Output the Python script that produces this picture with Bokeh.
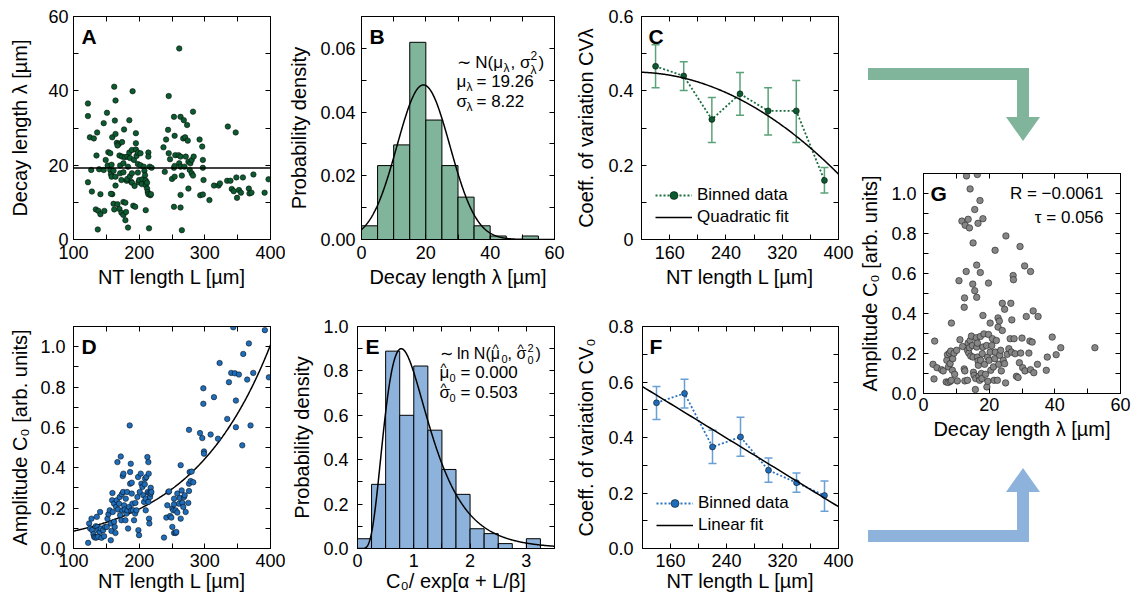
import numpy as np
from bokeh.plotting import figure
from bokeh.models import (Range1d, LinearAxis, FixedTicker, PrintfTickFormatter,
                          Label, Legend, LegendItem, Whisker, TeeHead,
                          ColumnDataSource, Span, Div)
from bokeh.layouts import row, column
from bokeh.embed import file_html
from bokeh.resources import INLINE

FONT = "Liberation Sans"

# ---------------- data ----------------
# Panel A: decay length vs NT length
A_L = [
    122, 122, 125, 131, 136, 122, 127, 128, 135, 139,
    134, 138, 141, 141, 137, 146, 147, 146, 151, 149,
    153, 156, 152, 156, 157, 158, 158, 159, 159, 162,
    164, 163, 164, 161, 164, 164, 157, 161, 162, 166,
    169, 167, 170, 171, 171, 173, 174, 176, 176, 177,
    178, 174, 167, 170, 173, 176, 176, 179, 179, 180,
    181, 183, 182, 182, 185, 185, 186, 186, 188, 189,
    189, 189, 190, 191, 193, 192, 194, 195, 195, 195,
    196, 198, 198, 199, 198, 202, 200, 202, 205, 204,
    207, 208, 209, 210, 210, 212, 212, 213, 214, 214,
    214, 216, 217, 218, 219, 210, 215, 183, 237, 239,
    241, 244, 245, 245, 247, 250, 253, 253, 254, 253,
    255, 254, 254, 261, 260, 261, 263, 263, 263, 265,
    263, 263, 265, 267, 268, 269, 270, 271, 273, 274,
    275, 275, 277, 278, 280, 282, 283, 280, 282, 292,
    293, 296, 297, 297, 298, 297, 307, 314, 321, 323,
    334, 335, 339, 341, 344, 347, 348, 349, 352, 355,
    358, 367, 368, 371, 374, 391, 397]
A_LAM = [
    36.6, 33.2, 27.5, 27.2, 28.8, 15.4, 18.7, 12.9, 22.6, 18.9,
    8.1, 7.7, 12.2, 6.8, 2.7, 18.7, 7.7, 31.3, 34.1, 21.4,
    23.5, 23.2, 19.9, 18.7, 17.6, 20.1, 16.9, 12.2, 27.5, 41.1,
    37.4, 32.0, 28.4, 18.5, 16.9, 14.5, 12.3, 9.6, 8.1, 26.0,
    25.7, 25.3, 22.6, 19.9, 17.8, 16.0, 22.3, 20.5, 18.1, 29.6,
    22.1, 26.2, 9.5, 8.2, 7.2, 10.1, 6.6, 9.9, 5.2, 7.4,
    15.8, 19.6, 22.3, 16.3, 23.4, 32.1, 21.9, 17.0, 15.5, 24.1,
    17.8, 15.3, 39.9, 9.1, 14.4, 21.4, 8.8, 28.6, 25.9, 24.2,
    22.5, 23.4, 20.3, 15.4, 18.0, 23.2, 16.0, 20.0, 16.2, 14.9,
    19.6, 18.5, 17.3, 14.6, 15.9, 13.7, 15.3, 12.8, 12.2, 23.4,
    22.3, 19.6, 11.9, 12.2, 19.3, 7.9, 3.0, 3.2, 24.8, 18.2,
    26.9, 29.5, 38.6, 23.2, 21.6, 16.3, 33.0, 8.8, 27.9, 19.3,
    22.7, 16.9, 19.8, 51.4, 22.7, 20.5, 33.0, 22.3, 19.6, 17.2,
    12.0, 8.6, 2.5, 27.2, 32.1, 19.6, 27.5, 22.3, 30.8, 26.6,
    13.7, 20.9, 18.7, 20.5, 21.4, 34.4, 22.3, 17.8, 17.2, 26.9,
    11.9, 25.0, 21.4, 19.3, 16.0, 12.1, 10.6, 14.5, 14.5, 15.1,
    15.8, 30.4, 15.8, 13.6, 13.0, 28.8, 16.7, 11.2, 13.3, 12.6,
    16.7, 13.7, 12.4, 12.6, 17.5, 12.6, 16.2]
LAMBDA_MEAN = 19.26
LAMBDA_STD = 8.22

# Panel B: histogram of decay lengths
B_EDGES = [0, 5, 10, 15, 20, 25, 30, 35, 40, 45, 50, 55]
B_DENSITY = [0.0043, 0.0232, 0.0297, 0.0619, 0.0375, 0.0232, 0.0133, 0.0043, 0.0011, 0.0, 0.0011]

# Panels C and F: binned coefficients of variation
BIN_L = [140, 180, 220, 260, 300, 340, 380]
C_CV = [0.466, 0.440, 0.323, 0.392, 0.346, 0.346, 0.159]
C_LO = [0.408, 0.401, 0.261, 0.334, 0.281, 0.261, 0.125]
C_HI = [0.524, 0.478, 0.382, 0.449, 0.408, 0.428, 0.194]
C_FIT_CENTER = 260.0
C_FIT_COEF = [0.377, -9.79e-4, -3.27e-6]

F_CV = [0.525, 0.559, 0.366, 0.402, 0.282, 0.237, 0.191]
F_LO = [0.465, 0.506, 0.306, 0.332, 0.239, 0.203, 0.134]
F_HI = [0.584, 0.610, 0.426, 0.473, 0.326, 0.272, 0.243]
F_FIT_INTERCEPT = 0.769
F_FIT_SLOPE = -1.546e-3

# Panel D: amplitude vs NT length
D_L = [
    122.3, 123.8, 125.3, 127.4, 128.4, 130.4, 131.4, 132.9, 134.0, 135.5,
    136.5, 137.5, 135.0, 137.5, 140.0, 140.5, 141.6, 142.6, 145.1, 146.6,
    148.1, 150.7, 151.7, 153.2, 155.2, 156.8, 156.8, 157.8, 158.8, 159.3,
    159.8, 161.8, 161.8, 162.8, 163.9, 164.9, 165.9, 166.9, 167.9, 169.4,
    170.4, 171.0, 172.0, 173.0, 173.5, 174.5, 175.0, 175.5, 176.0, 177.0,
    178.0, 179.1, 179.6, 180.6, 181.6, 182.1, 183.1, 184.6, 185.6, 186.2,
    186.2, 187.2, 188.2, 188.7, 188.7, 189.7, 190.7, 192.2, 193.8, 194.3,
    195.8, 197.3, 198.3, 198.8, 199.8, 200.9, 202.4, 203.4, 204.9, 206.4,
    207.4, 208.5, 209.0, 210.0, 210.0, 211.0, 212.5, 213.0, 214.0, 214.0,
    214.5, 215.5, 216.6, 217.6, 217.6, 215.0, 215.5, 218.6, 237.8, 241.4,
    242.9, 244.4, 245.5, 247.0, 249.0, 250.5, 250.5, 252.0, 253.1, 253.1,
    253.1, 255.6, 256.6, 255.6, 258.1, 258.1, 260.7, 261.7, 263.2, 263.2,
    264.7, 265.7, 267.2, 268.3, 269.3, 270.8, 274.8, 275.9, 275.9, 275.9,
    276.9, 278.4, 279.9, 282.4, 292.6, 296.1, 297.7, 297.7, 298.7, 298.7,
    308.8, 313.9, 320.0, 322.5, 334.1, 336.7, 340.2, 343.3, 345.8, 351.9,
    347.3, 347.3, 357.0, 358.5, 364.5, 367.1, 369.6, 373.7, 391.4, 397.5]
D_C0 = [
    0.028, 0.124, 0.099, 0.148, 0.091, 0.071, 0.058, 0.054, 0.110, 0.157,
    0.107, 0.091, 0.054, 0.058, 0.082, 0.181, 0.099, 0.053, 0.091, 0.061,
    0.107, 0.107, 0.147, 0.170, 0.189, 0.124, 0.041, 0.087, 0.239, 0.275,
    0.181, 0.222, 0.132, 0.107, 0.077, 0.206, 0.239, 0.428, 0.193, 0.222,
    0.255, 0.165, 0.456, 0.140, 0.269, 0.189, 0.359, 0.280, 0.371, 0.214,
    0.193, 0.140, 0.247, 0.173, 0.280, 0.189, 0.099, 0.206, 0.610, 0.379,
    0.321, 0.420, 0.189, 0.326, 0.272, 0.222, 0.189, 0.140, 0.173, 0.226,
    0.189, 0.255, 0.354, 0.091, 0.066, 0.280, 0.371, 0.321, 0.305, 0.264,
    0.231, 0.318, 0.346, 0.189, 0.247, 0.354, 0.453, 0.280, 0.231, 0.428,
    0.371, 0.275, 0.255, 0.301, 0.272, 0.148, 0.124, 0.280, 0.054, 0.153,
    0.214, 0.280, 0.283, 0.161, 0.153, 0.198, 0.107, 0.189, 0.219, 0.247,
    0.077, 0.077, 0.082, 0.189, 0.272, 0.178, 0.222, 0.250, 0.148, 0.413,
    0.288, 0.227, 0.206, 0.255, 0.264, 0.181, 0.226, 0.321, 0.588, 0.285,
    0.379, 0.334, 0.381, 0.328, 0.572, 0.547, 0.794, 0.717, 0.481, 0.470,
    0.565, 0.750, 0.544, 0.919, 0.642, 0.824, 0.870, 1.096, 0.868, 0.862,
    0.733, 0.601, 0.511, 0.964, 0.837, 1.016, 0.610, 0.870, 1.082, 0.848]
D_ALPHA = -3.27
D_BETA = 122.0

# Panel E: histogram of normalised amplitudes
E_EDGES = [0, 0.25, 0.5, 0.75, 1.0, 1.25, 1.5, 1.75, 2.0, 2.25, 2.5, 2.75, 3.0, 3.25]
E_DENSITY = [0.044, 0.289, 0.889, 0.600, 0.822, 0.533, 0.356, 0.244, 0.089, 0.067, 0.022, 0.0, 0.044]
E_MU = 0.000
E_SIGMA = 0.503

# Panel G: amplitude vs decay length
G_LAM = [
    13.1, 16.4, 14.2, 17.2, 15.6, 11.7, 12.7, 13.6, 14.0, 16.6,
    18.1, 15.1, 25.1, 29.4, 21.8, 13.0, 16.2, 17.3, 30.8, 32.6,
    10.8, 15.0, 19.8, 15.6, 16.2, 27.3, 27.4, 12.5, 12.4, 18.1,
    24.0, 26.6, 24.7, 8.5, 20.3, 22.7, 23.1, 26.9, 31.3, 33.4,
    34.9, 3.4, 2.9, 3.2, 4.1, 5.5, 6.0, 7.1, 7.3, 7.9,
    8.3, 6.9, 7.5, 8.1, 8.5, 7.6, 8.1, 8.8, 8.9, 9.3,
    9.5, 10.1, 10.3, 11.1, 11.9, 12.4, 12.6, 12.6, 13.4, 13.4,
    13.6, 13.8, 14.0, 14.2, 14.4, 14.6, 14.9, 15.1, 15.2, 15.4,
    15.8, 15.9, 16.1, 16.2, 16.4, 16.4, 16.6, 16.7, 16.9, 17.1,
    17.3, 17.4, 17.6, 17.8, 17.9, 18.1, 18.4, 18.6, 18.9, 19.2,
    19.3, 19.5, 19.6, 19.8, 20.0, 20.3, 20.5, 20.8, 21.0, 21.3,
    21.5, 21.7, 21.9, 22.2, 22.5, 22.7, 22.9, 23.2, 23.5, 23.7,
    24.0, 24.3, 24.7, 25.0, 25.5, 26.0, 26.4, 26.8, 27.6, 27.9,
    28.3, 28.8, 29.2, 29.6, 30.0, 30.2, 30.9, 32.1, 32.4, 32.6,
    33.1, 33.6, 34.7, 37.4, 37.7, 39.2, 40.4, 41.8, 52.2]
G_C0 = [
    1.088, 1.095, 1.023, 0.965, 0.920, 0.862, 0.841, 0.871, 0.828, 0.851,
    0.874, 0.753, 0.788, 0.735, 0.716, 0.610, 0.642, 0.605, 0.638, 0.610,
    0.564, 0.547, 0.552, 0.514, 0.481, 0.590, 0.569, 0.478, 0.431, 0.390,
    0.451, 0.451, 0.421, 0.352, 0.352, 0.378, 0.362, 0.368, 0.385, 0.413,
    0.385, 0.262, 0.146, 0.073, 0.129, 0.119, 0.113, 0.166, 0.194, 0.202,
    0.212, 0.058, 0.055, 0.060, 0.066, 0.133, 0.149, 0.116, 0.174, 0.202,
    0.096, 0.216, 0.063, 0.269, 0.235, 0.123, 0.113, 0.063, 0.066, 0.216,
    0.252, 0.202, 0.229, 0.265, 0.187, 0.287, 0.240, 0.182, 0.106, 0.091,
    0.020, 0.075, 0.279, 0.232, 0.252, 0.182, 0.163, 0.141, 0.086, 0.066,
    0.285, 0.166, 0.100, 0.075, 0.199, 0.232, 0.298, 0.146, 0.096, 0.240,
    0.033, 0.182, 0.061, 0.295, 0.166, 0.207, 0.116, 0.240, 0.274, 0.133,
    0.066, 0.174, 0.207, 0.265, 0.066, 0.332, 0.146, 0.191, 0.216, 0.113,
    0.315, 0.166, 0.149, 0.053, 0.196, 0.224, 0.274, 0.207, 0.274, 0.199,
    0.086, 0.080, 0.154, 0.202, 0.277, 0.129, 0.113, 0.202, 0.262, 0.119,
    0.257, 0.104, 0.146, 0.116, 0.182, 0.282, 0.194, 0.229, 0.229]
G_R = "\u22120.0061"
G_TAU = "0.056"

# decorative arrow outlines (pixel coordinates inside the arrow boxes)
ARROW_TOP_X = [12, 173, 173, 184, 167, 150, 161, 161, 12]
ARROW_TOP_Y = [68, 68, 117, 117, 141, 117, 117, 80, 80]
ARROW_BOT_X = [12, 161, 161, 150, 167, 184, 173, 173, 12]
ARROW_BOT_Y = [80, 80, 42, 42, 18, 42, 42, 92, 92]

# colours
GREEN_PT = "#0d5a30"
GREEN_LINE = "#1a6e3f"
GREEN_ERR = "#5aa277"
GREEN_HIST = "#80b49b"
BLUE_PT = "#1f6cb8"
BLUE_LINE = "#2b74c2"
BLUE_ERR = "#6a9fd6"
BLUE_HIST = "#8db3dc"
GRAY_PT = "#868686"


# ---------------- helpers ----------------
def make_fig(xr, yr, w, h, ml, mr, mt, mb):
    p = figure(x_range=Range1d(*xr), y_range=Range1d(*yr),
               width=w, height=h,
               min_border_left=ml, min_border_right=mr,
               min_border_top=mt, min_border_bottom=mb,
               toolbar_location=None, output_backend="svg",
               x_axis_location=None, y_axis_location=None)
    p.grid.visible = False
    p.outline_line_color = "black"
    p.outline_line_width = 1
    p.background_fill_color = "white"
    p.border_fill_color = "white"
    return p


def add_axes(p, xt, xm, yt, ym, xlabel, ylabel, xfmt=None, yfmt=None,
             xs=(6, 4), ys=(5, 10), yover=None):
    for loc in ("below", "above", "left", "right"):
        isx = loc in ("below", "above")
        ticker = FixedTicker(ticks=xt if isx else yt, minor_ticks=xm if isx else ym)
        ax = LinearAxis(ticker=ticker, axis_line_color="black", axis_line_width=1,
                        major_tick_in=5, major_tick_out=0,
                        minor_tick_in=5, minor_tick_out=0,
                        major_tick_line_color="black", minor_tick_line_color="black")
        if loc in ("below", "left"):
            fmt = xfmt if isx else yfmt
            if fmt is not None:
                ax.formatter = PrintfTickFormatter(format=fmt)
            if (not isx) and yover:
                ax.major_label_overrides = yover
            ax.axis_label = xlabel if isx else ylabel
            ax.axis_label_text_font = FONT
            ax.axis_label_text_font_size = "20px"
            ax.axis_label_text_font_style = "normal"
            ax.axis_label_text_color = "black"
            ax.major_label_text_font = FONT
            ax.major_label_text_font_size = "18px"
            ax.major_label_text_color = "black"
            s = xs if isx else ys
            ax.major_label_standoff = s[0]
            ax.axis_label_standoff = s[1]
        else:
            ax.major_label_text_font_size = "1px"
            ax.major_label_text_color = None
            ax.major_label_standoff = 0
        p.add_layout(ax, loc)


def letter(p, txt, dx=8, dy=8):
    p.add_layout(Label(x=p.x_range.start, y=p.y_range.end, x_offset=dx, y_offset=-dy,
                       text=txt, text_font=FONT, text_font_style="bold",
                       text_font_size="21px", text_baseline="top", text_align="left",
                       text_color="black"))


def pieces(p, items):
    for txt, dx, dy, size in items:
        p.add_layout(Label(x=p.x_range.start, y=p.y_range.end, x_offset=dx, y_offset=-dy,
                           text=txt, text_font=FONT, text_font_size=f"{size}px",
                           text_baseline="middle", text_align="left", text_color="black"))


def make_legend(p, items, loc):
    leg = Legend(items=items, location=loc, orientation="vertical",
                 border_line_color=None, background_fill_alpha=0,
                 padding=0, margin=0, spacing=2, glyph_width=37, glyph_height=20,
                 label_standoff=5, label_height=20, label_text_font=FONT,
                 label_text_font_size="17px", label_text_color="black")
    p.add_layout(leg)


def binned_panel(p, cv, lo, hi, col_line, col_pt, col_err):
    src = ColumnDataSource(dict(x=BIN_L, y=cv, lo=lo, hi=hi))
    w = Whisker(source=src, base="x", upper="hi", lower="lo", dimension="height",
                line_color=col_err, line_width=1.5,
                upper_head=TeeHead(size=8, line_color=col_err, line_width=1.5),
                lower_head=TeeHead(size=8, line_color=col_err, line_width=1.5))
    p.add_layout(w)
    lr = p.line("x", "y", source=src, line_color=col_line, line_width=1.8, line_dash="2 2")
    sr = p.scatter("x", "y", source=src, size=6, fill_color=col_pt,
                   line_color="black", line_width=0.5)
    return lr, sr


Y_11 = [0.0, 0.2, 0.4, 0.6, 0.8, 1.0]
Y_11_MINOR = [0.1, 0.3, 0.5, 0.7, 0.9]

# ---------------- Panel A ----------------
pA = make_fig((100, 400), (0, 60), 285, 299, 73, 15, 16, 60)
add_axes(pA, [100, 200, 300, 400], [150, 250, 350], [0, 20, 40, 60], [10, 30, 50],
         "NT length L [µm]", "Decay length λ [µm]", xs=(6, 4), ys=(5, 14))
pA.add_layout(Span(location=LAMBDA_MEAN, dimension="width", line_color="black", line_width=1.5))
pA.scatter(A_L, A_LAM, size=5.5, fill_color=GREEN_PT, line_color="black", line_width=0.5)
letter(pA, "A")

# ---------------- Panel B ----------------
pB = make_fig((0, 60), (0, 0.07), 287, 299, 72, 18, 16, 60)
add_axes(pB, [0, 20, 40, 60], [10, 30, 50], [0.0, 0.02, 0.04, 0.06], [0.01, 0.03, 0.05],
         "Decay length λ [µm]", "Probability density", yfmt="%.2f", xs=(6, 4), ys=(6, 7))
pB.quad(left=B_EDGES[:-1], right=B_EDGES[1:], bottom=0, top=B_DENSITY,
        fill_color=GREEN_HIST, line_color="black", line_width=1)
xb = np.linspace(0, 60, 400)
yb = np.exp(-0.5 * ((xb - LAMBDA_MEAN) / LAMBDA_STD) ** 2) / (LAMBDA_STD * np.sqrt(2 * np.pi))
pB.line(xb, yb, line_color="black", line_width=1.5)
letter(pB, "B")
pieces(pB, [("∼ N(μ", 95, 46, 17), ("λ", 142, 51, 12), (", σ", 149, 46, 17),
            ("2", 169, 39, 12), ("λ", 169, 53, 12), (")", 177, 46, 17),
            ("μ", 95, 65, 17), ("λ", 105, 70, 12), (f"= {LAMBDA_MEAN:.2f}", 115, 65, 17),
            ("σ", 95, 85, 17), ("λ", 105, 90, 12), (f"= {LAMBDA_STD:.2f}", 115, 85, 17)])

# ---------------- Panel C ----------------
pC = make_fig((120, 400), (0, 0.6), 284, 299, 69, 18, 16, 60)
add_axes(pC, [160, 240, 320, 400], [200, 280, 360], [0.0, 0.2, 0.4, 0.6], [0.1, 0.3, 0.5],
         "NT length L [µm]", "Coeff. of variation CVλ", yfmt="%.1f", xs=(6, 4), ys=(8, 8),
         yover={0: "0"})
lrC, srC = binned_panel(pC, C_CV, C_LO, C_HI, GREEN_LINE, GREEN_PT, GREEN_ERR)
xc = np.linspace(120, 400, 300)
yc = C_FIT_COEF[0] + C_FIT_COEF[1] * (xc - C_FIT_CENTER) + C_FIT_COEF[2] * (xc - C_FIT_CENTER) ** 2
frC = pC.line(xc, yc, line_color="black", line_width=1.5)
letter(pC, "C", dx=7)
make_legend(pC, [LegendItem(label="Binned data", renderers=[lrC, srC]),
                 LegendItem(label="Quadratic fit", renderers=[frC])], (14, 12))

# ---------------- Panel D ----------------
pD = make_fig((100, 400), (0, 1.1), 285, 300, 73, 15, 27, 51)
add_axes(pD, [100, 200, 300, 400], [150, 250, 350], Y_11, Y_11_MINOR,
         "NT length L [µm]", "Amplitude C₀ [arb. units]", yfmt="%.1f", xs=(5, 0), ys=(8, 6))
xd = np.linspace(100, 400, 300)
pD.line(xd, np.exp(D_ALPHA + xd / D_BETA), line_color="black", line_width=1.5)
pD.scatter(D_L, D_C0, size=5.5, fill_color=BLUE_PT, line_color="black", line_width=0.5)
letter(pD, "D")

# ---------------- Panel E ----------------
pE = make_fig((0, 3.5), (0, 1.0), 287, 300, 72, 18, 27, 51)
add_axes(pE, [0, 1, 2, 3], [0.5, 1.5, 2.5], Y_11, Y_11_MINOR,
         "C₀/ exp[α + L/β]", "Probability density", yfmt="%.1f", xs=(5, 0), ys=(9, 7))
pE.quad(left=E_EDGES[:-1], right=E_EDGES[1:], bottom=0, top=E_DENSITY,
        fill_color=BLUE_HIST, line_color="black", line_width=1)
xe = np.linspace(0.005, 3.5, 500)
ye = np.exp(-(np.log(xe) - E_MU) ** 2 / (2 * E_SIGMA ** 2)) / (xe * E_SIGMA * np.sqrt(2 * np.pi))
pE.line(xe, ye, line_color="black", line_width=1.5)
letter(pE, "E")
pieces(pE, [("∼ ln N(μ", 82, 27, 16), ("^", 135, 22, 13), ("0", 144, 32, 11),
            (", σ", 150, 27, 16), ("^", 160, 22, 13), ("2", 170, 21, 11), ("0", 170, 33, 11),
            (")", 178, 27, 16),
            ("μ", 82, 46, 17), ("^", 83, 41, 13), ("0", 92, 51, 11),
            (f"= {E_MU:.3f}", 103, 46, 17),
            ("σ", 82, 66, 17), ("^", 83, 61, 13), ("0", 92, 71, 11),
            (f"= {E_SIGMA:.3f}", 103, 66, 17)])

# ---------------- Panel F ----------------
pF = make_fig((120, 400), (0, 0.8), 284, 300, 69, 18, 27, 51)
add_axes(pF, [160, 240, 320, 400], [200, 280, 360], [0.0, 0.2, 0.4, 0.6, 0.8], [0.1, 0.3, 0.5, 0.7],
         "NT length L [µm]", "Coeff. of variation CV₀", yfmt="%.1f", xs=(5, 0), ys=(9, 8))
lrF, srF = binned_panel(pF, F_CV, F_LO, F_HI, BLUE_LINE, BLUE_PT, BLUE_ERR)
xf = np.linspace(120, 400, 50)
frF = pF.line(xf, F_FIT_INTERCEPT + F_FIT_SLOPE * xf, line_color="black", line_width=1.5)
letter(pF, "F", dx=7)
make_legend(pF, [LegendItem(label="Binned data", renderers=[lrF, srF]),
                 LegendItem(label="Linear fit", renderers=[frF])], (14, 13))

# ---------------- Panel G ----------------
pG = make_fig((0, 60), (0, 1.1), 276, 300, 67, 12, 23, 57)
add_axes(pG, [0, 20, 40, 60], [10, 30, 50], Y_11, Y_11_MINOR,
         "Decay length λ [µm]", "Amplitude C₀ [arb. units]", yfmt="%.1f", xs=(4, 4), ys=(7, 7))
pG.scatter(G_LAM, G_C0, size=6.5, fill_color=GRAY_PT, line_color="#222222", line_width=0.6)
letter(pG, "G", dx=7)
for txt, dy in ((f"R = {G_R}", 20), (f"τ = {G_TAU}", 44)):
    pG.add_layout(Label(x=pG.x_range.end, y=pG.y_range.end, x_offset=-17, y_offset=-dy,
                        text=txt, text_font=FONT, text_font_size="17px",
                        text_baseline="middle", text_align="right", text_color="black"))


# ---------------- arrows (decoration) ----------------
def arrow_div(h, xs, ys, color):
    pts = " ".join(f"{x},{y}" for x, y in zip(xs, ys))
    html = (f'<svg xmlns="http://www.w3.org/2000/svg" width="276" height="{h}" '
            f'style="display:block"><polygon points="{pts}" fill="{color}"/></svg>')
    return Div(text=html, width=276, height=h, margin=0)


arrTop = arrow_div(150, ARROW_TOP_X, ARROW_TOP_Y, GREEN_HIST)
arrBot = arrow_div(149, ARROW_BOT_X, ARROW_BOT_Y, BLUE_HIST)

left = column(row(pA, pB, pC), row(pD, pE, pF))
right = column(arrTop, pG, arrBot)
layout = row(left, right)

open("out.html", "w").write(file_html(layout, INLINE))
